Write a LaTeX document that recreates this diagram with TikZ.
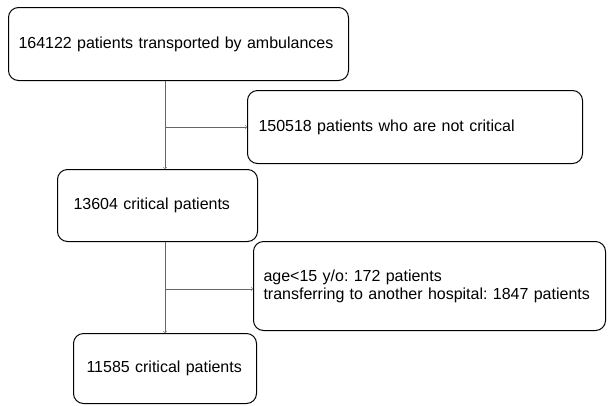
\documentclass[tikz,border=0pt]{standalone}
\usepackage{fontspec}
\setmainfont{Liberation Sans}
\usepackage{tikz}
\usetikzlibrary{calc}
\usetikzlibrary{positioning}

\begin{document}
\begin{tikzpicture}[x=1pt,y=-1pt,
                    count node/.style={draw,line width=1pt,rounded corners=10pt,anchor=north west,
                                       align=left,inner ysep=0pt,font=\fontsize{16}{18}\selectfont\frenchspacing},
                    link/.style={->,gray!80!black,line width=0.5pt}]
  \useasboundingbox (0,0) rectangle (609,405);

  \node[count node,inner xsep=10pt,text width=320pt,minimum height=73pt] (1) at (8,7)
    {164122 patients transported by ambulances};
  \node[count node,inner xsep=11pt,text width=313pt,minimum height=73pt] (2) at (247,90)
    {150518 patients who are not critical};
  \node[count node,inner xsep=16pt,text width=168pt,minimum height=72pt] (3) at (57,169)
    {13604 critical patients};
  \node[count node,inner xsep=10pt,text width=332pt,minimum height=89pt] (4) at (253,241)
    {age<15 y/o: 172 patients\\transferring to another hospital: 1847 patients};
  \node[count node,inner xsep=13pt,text width=157pt,minimum height=70pt] (5) at (73,333)
    {11585 critical patients};

  \coordinate (trunk) at (165,0);

  \draw[link] (1.south -| trunk) -- (3.north -| trunk);
  \draw[link] (2.west -| trunk) -- (2.west);
  \draw[link] (3.south -| trunk) -- (5.north -| trunk);
  \draw[link] ($(4.west -| trunk)+(0,3)$) -- ($(4.west)+(0,3)$);
\end{tikzpicture}
\end{document}
